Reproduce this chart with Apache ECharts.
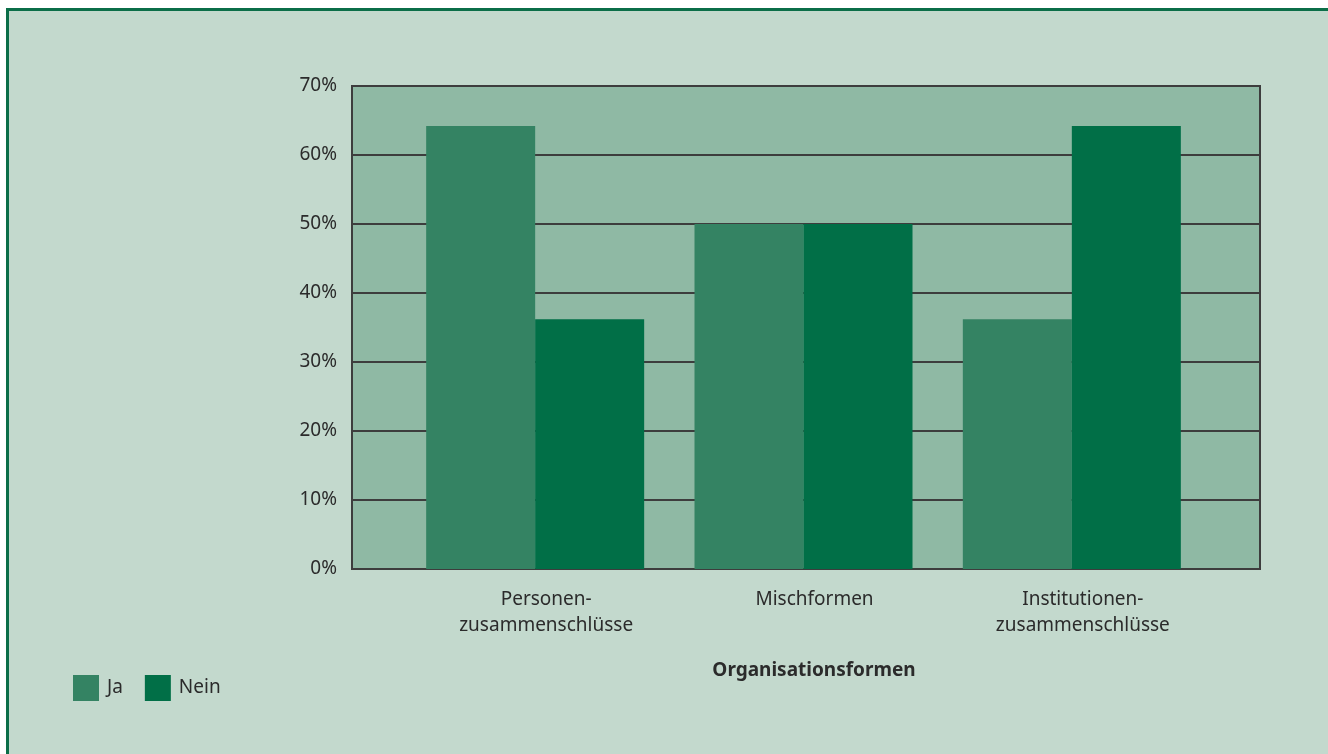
<!DOCTYPE html>
<html>
<head>
<meta charset="utf-8">
<script src="https://cdn.jsdelivr.net/npm/echarts@6/dist/echarts.min.js"></script>
<style>
html,body{margin:0;padding:0;background:#ffffff;}
#chart{width:1328px;height:754px;}
</style>
</head>
<body>
<div id="chart"></div>
<script>
const categories = ['Personen-\nzusammenschlüsse', 'Mischformen', 'Institutionen-\nzusammenschlüsse'];
const seriesNames = ['Ja', 'Nein'];
const jaValues = [64.2, 50, 36.2];
const neinValues = [36.2, 50, 64.2];
const yTicks = [0, 10, 20, 30, 40, 50, 60, 70];
const axisTitle = 'Organisationsformen';

const FONT = '"Noto Sans", sans-serif';
const TXT = '#2b2b2b';
const chart = echarts.init(document.getElementById('chart'), null, {renderer: 'canvas'});

chart.setOption({
  backgroundColor: '#ffffff',
  animation: false,
  graphic: [{
    type: 'rect', z: -10, silent: true,
    shape: {x: 7.5, y: 9.5, width: 1330, height: 760},
    style: {fill: '#c3d9cd', stroke: '#0b6e48', lineWidth: 3}
  }],
  title: {
    text: axisTitle,
    left: 809, top: 656, textAlign: 'center',
    textStyle: {fontFamily: FONT, fontSize: 19, fontWeight: 'bold', color: TXT}
  },
  legend: {
    data: seriesNames,
    left: 73, top: 675, padding: 0,
    orient: 'horizontal',
    icon: 'rect',
    itemWidth: 26, itemHeight: 26, itemGap: 22,
    textStyle: {fontFamily: FONT, fontSize: 19, color: TXT, padding: [0, 0, 0, 3]}
  },
  grid: [
    {left: 352, right: 68, top: 86, bottom: 185, show: true,
     backgroundColor: '#8fb9a4', borderColor: '#3d3d3d', borderWidth: 2},
    {left: 401, right: 122, top: 86, bottom: 185, show: false}
  ],
  xAxis: [
    {gridIndex: 0, type: 'category', data: categories, show: true,
     axisLine: {show: true, lineStyle: {color: '#3d3d3d', width: 2}},
     axisTick: {show: false}, axisLabel: {show: false}, splitLine: {show: false}},
    {gridIndex: 1, type: 'category', data: categories,
     axisLine: {show: false}, axisTick: {show: false},
     axisLabel: {fontFamily: FONT, fontSize: 19, color: TXT, lineHeight: 26, margin: 18,
                 padding: [0, 0, 0, 22], interval: 0}}
  ],
  yAxis: [
    {gridIndex: 0, type: 'value', min: yTicks[0], max: yTicks[yTicks.length - 1], interval: 10,
     axisLine: {show: true, lineStyle: {color: '#3d3d3d', width: 2}},
     axisTick: {show: false},
     axisLabel: {fontFamily: FONT, fontSize: 19, color: TXT, margin: 15, formatter: '{value}%'},
     splitLine: {show: true, lineStyle: {color: '#3d3d3d', width: 2}}},
    {gridIndex: 1, type: 'value', min: yTicks[0], max: yTicks[yTicks.length - 1], interval: 10,
     show: false}
  ],
  series: [
    {name: seriesNames[0], type: 'bar', xAxisIndex: 1, yAxisIndex: 1, data: jaValues,
     barWidth: 109, barGap: '0%', itemStyle: {color: '#348363'}},
    {name: seriesNames[1], type: 'bar', xAxisIndex: 1, yAxisIndex: 1, data: neinValues,
     barWidth: 109, barGap: '0%', itemStyle: {color: '#016f47'}}
  ]
});
</script>
</body>
</html>
